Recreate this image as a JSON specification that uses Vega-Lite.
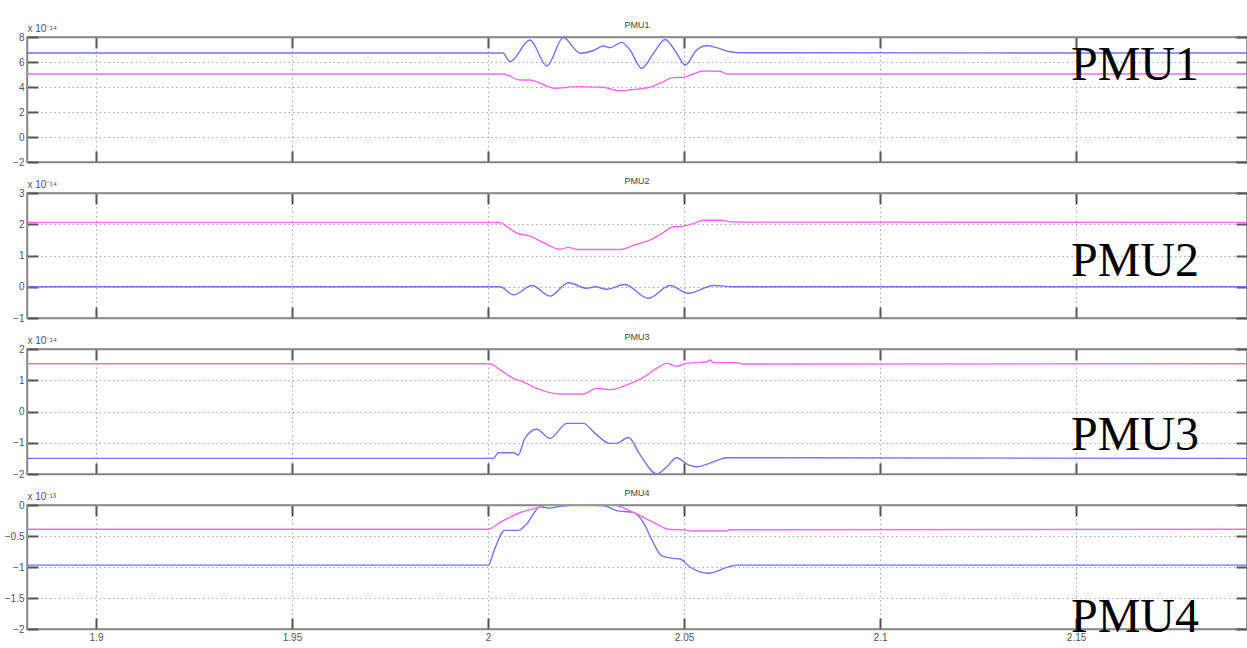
{
  "$schema": "https://vega.github.io/schema/vega-lite/v6.json",
  "padding": {"left": 3, "top": 20, "right": 0, "bottom": 0},
  "background": "white",
  "bounds": "flush",
  "spacing": 31,
  "config": {
    "view": {"stroke": "#888888", "strokeWidth": 1.5},
    "axis": {
      "labelFont": "Liberation Sans", "labelFontSize": 10, "labelColor": "#555555",
      "tickColor": "#555555", "tickWidth": 2, "tickSize": -11, "labelPadding": 14,
      "gridDash": [1.5, 3], "gridColor": "#a8a8a8", "gridWidth": 1,
      "domainColor": "#888888", "domainWidth": 1.5, "format": "~g",
      "titleFont": "Liberation Sans", "titleFontSize": 10, "titleFontWeight": "normal", "titleColor": "#555555"
    },
    "title": {"font": "Liberation Sans", "fontSize": 9, "fontWeight": "normal", "color": "#444444", "offset": -7},
    "text": {"font": "Liberation Serif", "fontSize": 48, "align": "left", "baseline": "alphabetic", "color": "#000000"}
  },
  "datasets": {
    "p1": [
      {"t": 1.882, "v": 6.72, "s": "blue"}, {"t": 2.0038, "v": 6.72, "s": "blue"}, {"t": 2.0056, "v": 6.03, "s": "blue"},
      {"t": 2.0107, "v": 7.76, "s": "blue"}, {"t": 2.015, "v": 5.68, "s": "blue"}, {"t": 2.0192, "v": 7.95, "s": "blue"},
      {"t": 2.0235, "v": 6.7, "s": "blue"}, {"t": 2.0268, "v": 6.9, "s": "blue"}, {"t": 2.0294, "v": 7.28, "s": "blue"},
      {"t": 2.0311, "v": 7.15, "s": "blue"}, {"t": 2.0341, "v": 7.57, "s": "blue"}, {"t": 2.0362, "v": 6.96, "s": "blue"},
      {"t": 2.0392, "v": 5.5, "s": "blue"}, {"t": 2.0422, "v": 6.7, "s": "blue"}, {"t": 2.0452, "v": 7.8, "s": "blue"},
      {"t": 2.0481, "v": 6.7, "s": "blue"}, {"t": 2.0503, "v": 5.76, "s": "blue"}, {"t": 2.0532, "v": 6.96, "s": "blue"},
      {"t": 2.0558, "v": 7.3, "s": "blue"}, {"t": 2.0583, "v": 7.15, "s": "blue"}, {"t": 2.0617, "v": 6.82, "s": "blue"},
      {"t": 2.0643, "v": 6.74, "s": "blue"}, {"t": 2.194, "v": 6.72, "s": "blue"},
      {"t": 1.882, "v": 5.04, "s": "pink"}, {"t": 2.0038, "v": 5.04, "s": "pink"}, {"t": 2.0082, "v": 4.56, "s": "pink"},
      {"t": 2.0107, "v": 4.56, "s": "pink"}, {"t": 2.0133, "v": 4.3, "s": "pink"}, {"t": 2.0171, "v": 3.9, "s": "pink"},
      {"t": 2.0226, "v": 4.03, "s": "pink"}, {"t": 2.0294, "v": 3.98, "s": "pink"}, {"t": 2.0332, "v": 3.7, "s": "pink"},
      {"t": 2.037, "v": 3.8, "s": "pink"}, {"t": 2.0413, "v": 3.98, "s": "pink"}, {"t": 2.0442, "v": 4.35, "s": "pink"},
      {"t": 2.0472, "v": 4.75, "s": "pink"}, {"t": 2.0497, "v": 4.77, "s": "pink"}, {"t": 2.0523, "v": 5.04, "s": "pink"},
      {"t": 2.0548, "v": 5.28, "s": "pink"}, {"t": 2.0592, "v": 5.26, "s": "pink"}, {"t": 2.0609, "v": 5.04, "s": "pink"},
      {"t": 2.194, "v": 5.04, "s": "pink"}
    ],
    "p2": [
      {"t": 1.882, "v": 0, "s": "blue"}, {"t": 2.0031, "v": 0, "s": "blue"}, {"t": 2.0065, "v": -0.26, "s": "blue"},
      {"t": 2.0112, "v": 0.04, "s": "blue"}, {"t": 2.0158, "v": -0.3, "s": "blue"}, {"t": 2.0205, "v": 0.13, "s": "blue"},
      {"t": 2.0252, "v": -0.05, "s": "blue"}, {"t": 2.0273, "v": 0, "s": "blue"}, {"t": 2.0303, "v": -0.08, "s": "blue"},
      {"t": 2.0349, "v": 0.07, "s": "blue"}, {"t": 2.0409, "v": -0.37, "s": "blue"}, {"t": 2.0464, "v": 0.04, "s": "blue"},
      {"t": 2.0511, "v": -0.21, "s": "blue"}, {"t": 2.0575, "v": 0.04, "s": "blue"}, {"t": 2.0626, "v": 0, "s": "blue"},
      {"t": 2.194, "v": 0, "s": "blue"},
      {"t": 1.882, "v": 2.06, "s": "pink"}, {"t": 2.0031, "v": 2.06, "s": "pink"}, {"t": 2.0043, "v": 1.97, "s": "pink"},
      {"t": 2.0073, "v": 1.72, "s": "pink"}, {"t": 2.0107, "v": 1.62, "s": "pink"}, {"t": 2.0137, "v": 1.44, "s": "pink"},
      {"t": 2.0184, "v": 1.2, "s": "pink"}, {"t": 2.0205, "v": 1.26, "s": "pink"}, {"t": 2.0226, "v": 1.19, "s": "pink"},
      {"t": 2.0337, "v": 1.19, "s": "pink"}, {"t": 2.0379, "v": 1.36, "s": "pink"}, {"t": 2.0413, "v": 1.49, "s": "pink"},
      {"t": 2.0443, "v": 1.7, "s": "pink"}, {"t": 2.0472, "v": 1.92, "s": "pink"}, {"t": 2.0498, "v": 1.94, "s": "pink"},
      {"t": 2.0523, "v": 2.02, "s": "pink"}, {"t": 2.0549, "v": 2.13, "s": "pink"}, {"t": 2.0592, "v": 2.13, "s": "pink"},
      {"t": 2.0626, "v": 2.07, "s": "pink"}, {"t": 2.194, "v": 2.06, "s": "pink"}
    ],
    "p3": [
      {"t": 1.882, "v": -1.5, "s": "blue"}, {"t": 2.0014, "v": -1.5, "s": "blue"}, {"t": 2.0026, "v": -1.32, "s": "blue"},
      {"t": 2.0065, "v": -1.32, "s": "blue"}, {"t": 2.0077, "v": -1.39, "s": "blue"}, {"t": 2.0094, "v": -0.86, "s": "blue"},
      {"t": 2.0124, "v": -0.57, "s": "blue"}, {"t": 2.0158, "v": -0.86, "s": "blue"}, {"t": 2.0201, "v": -0.38, "s": "blue"},
      {"t": 2.0243, "v": -0.38, "s": "blue"}, {"t": 2.0273, "v": -0.7, "s": "blue"}, {"t": 2.0311, "v": -1.02, "s": "blue"},
      {"t": 2.0328, "v": -1.02, "s": "blue"}, {"t": 2.0358, "v": -0.83, "s": "blue"}, {"t": 2.0388, "v": -1.39, "s": "blue"},
      {"t": 2.043, "v": -2.0, "s": "blue"}, {"t": 2.0456, "v": -1.77, "s": "blue"}, {"t": 2.0481, "v": -1.48, "s": "blue"},
      {"t": 2.0511, "v": -1.71, "s": "blue"}, {"t": 2.0532, "v": -1.77, "s": "blue"}, {"t": 2.0575, "v": -1.61, "s": "blue"},
      {"t": 2.0609, "v": -1.48, "s": "blue"}, {"t": 2.194, "v": -1.5, "s": "blue"},
      {"t": 1.882, "v": 1.53, "s": "pink"}, {"t": 2.0005, "v": 1.53, "s": "pink"}, {"t": 2.0031, "v": 1.33, "s": "pink"},
      {"t": 2.0065, "v": 1.06, "s": "pink"}, {"t": 2.009, "v": 0.95, "s": "pink"}, {"t": 2.0124, "v": 0.74, "s": "pink"},
      {"t": 2.0184, "v": 0.56, "s": "pink"}, {"t": 2.0243, "v": 0.56, "s": "pink"}, {"t": 2.0277, "v": 0.74, "s": "pink"},
      {"t": 2.0311, "v": 0.7, "s": "pink"}, {"t": 2.0354, "v": 0.85, "s": "pink"}, {"t": 2.0396, "v": 1.09, "s": "pink"},
      {"t": 2.043, "v": 1.38, "s": "pink"}, {"t": 2.0456, "v": 1.54, "s": "pink"}, {"t": 2.0481, "v": 1.45, "s": "pink"},
      {"t": 2.0507, "v": 1.54, "s": "pink"}, {"t": 2.0558, "v": 1.59, "s": "pink"}, {"t": 2.0566, "v": 1.65, "s": "pink"},
      {"t": 2.0575, "v": 1.57, "s": "pink"}, {"t": 2.0634, "v": 1.56, "s": "pink"}, {"t": 2.0651, "v": 1.52, "s": "pink"},
      {"t": 2.194, "v": 1.53, "s": "pink"}
    ],
    "p4": [
      {"t": 1.882, "v": -0.97, "s": "blue"}, {"t": 2.0001, "v": -0.97, "s": "blue"}, {"t": 2.0014, "v": -0.76, "s": "blue"},
      {"t": 2.0043, "v": -0.41, "s": "blue"}, {"t": 2.0077, "v": -0.41, "s": "blue"}, {"t": 2.0098, "v": -0.31, "s": "blue"},
      {"t": 2.0133, "v": -0.03, "s": "blue"}, {"t": 2.0158, "v": -0.05, "s": "blue"}, {"t": 2.0184, "v": -0.02, "s": "blue"},
      {"t": 2.0235, "v": 0.0, "s": "blue"}, {"t": 2.0294, "v": -0.01, "s": "blue"}, {"t": 2.0328, "v": -0.09, "s": "blue"},
      {"t": 2.037, "v": -0.12, "s": "blue"}, {"t": 2.0396, "v": -0.28, "s": "blue"}, {"t": 2.0417, "v": -0.55, "s": "blue"},
      {"t": 2.0443, "v": -0.82, "s": "blue"}, {"t": 2.0472, "v": -0.86, "s": "blue"}, {"t": 2.049, "v": -0.87, "s": "blue"},
      {"t": 2.0515, "v": -1.0, "s": "blue"}, {"t": 2.0562, "v": -1.1, "s": "blue"}, {"t": 2.0617, "v": -0.99, "s": "blue"},
      {"t": 2.0634, "v": -0.97, "s": "blue"}, {"t": 2.194, "v": -0.97, "s": "blue"},
      {"t": 1.882, "v": -0.39, "s": "pink"}, {"t": 2.0001, "v": -0.39, "s": "pink"}, {"t": 2.0031, "v": -0.28, "s": "pink"},
      {"t": 2.0073, "v": -0.145, "s": "pink"}, {"t": 2.0133, "v": -0.03, "s": "pink"}, {"t": 2.015, "v": 0.0, "s": "pink"},
      {"t": 2.032, "v": 0.0, "s": "pink"}, {"t": 2.0371, "v": -0.12, "s": "pink"}, {"t": 2.0422, "v": -0.28, "s": "pink"},
      {"t": 2.046, "v": -0.39, "s": "pink"}, {"t": 2.0498, "v": -0.4, "s": "pink"}, {"t": 2.0523, "v": -0.42, "s": "pink"},
      {"t": 2.0609, "v": -0.42, "s": "pink"}, {"t": 2.0617, "v": -0.4, "s": "pink"}, {"t": 2.194, "v": -0.39, "s": "pink"}
    ]
  },
  "vconcat": [
    {
      "width": 1220, "height": 125,
      "title": {"text": "PMU1"},
      "layer": [
        {
          "data": {"name": "p1"},
          "mark": {"type": "line", "interpolate": "monotone", "clip": true, "strokeWidth": 1.4},
          "encoding": {
            "x": {"field": "t", "type": "quantitative", "scale": {"domain": [1.8824, 2.1936], "nice": false, "zero": false},
                  "axis": {"orient": "bottom", "values": [1.9, 1.95, 2, 2.05, 2.1, 2.15], "labels": false, "grid": true, "title": null}},
            "y": {"field": "v", "type": "quantitative", "scale": {"domain": [-2, 8], "nice": false, "zero": false},
                  "axis": {"orient": "left", "values": [-2, 0, 2, 4, 6, 8], "grid": true, "title": "x 10⁻¹⁴", "titleAngle": 0, "titleAlign": "left", "titleBaseline": "bottom", "titleX": 0, "titleY": -4}},
            "color": {"field": "s", "type": "nominal", "scale": {"domain": ["blue", "pink"], "range": ["#7373f2", "#f26af2"]}, "legend": null}
          }
        },
        {
          "data": {"values": [{"t": 2.1487, "v": 4.56, "label": "PMU1"}]},
          "mark": {"type": "text", "clip": false},
          "encoding": {
            "x": {"field": "t", "type": "quantitative", "scale": {"domain": [1.8824, 2.1936], "nice": false, "zero": false},
                  "axis": {"orient": "top", "values": [1.9, 1.95, 2, 2.05, 2.1, 2.15], "labels": false, "grid": false, "title": null}},
            "y": {"field": "v", "type": "quantitative", "scale": {"domain": [-2, 8], "nice": false, "zero": false},
                  "axis": {"orient": "right", "values": [-2, 0, 2, 4, 6, 8], "labels": false, "grid": false, "title": null}},
            "text": {"field": "label"}
          }
        }
      ],
      "resolve": {"axis": {"x": "independent", "y": "independent"}}
    },
    {
      "width": 1220, "height": 125,
      "title": {"text": "PMU2"},
      "layer": [
        {
          "data": {"name": "p2"},
          "mark": {"type": "line", "interpolate": "monotone", "clip": true, "strokeWidth": 1.4},
          "encoding": {
            "x": {"field": "t", "type": "quantitative", "scale": {"domain": [1.8824, 2.1936], "nice": false, "zero": false},
                  "axis": {"orient": "bottom", "values": [1.9, 1.95, 2, 2.05, 2.1, 2.15], "labels": false, "grid": true, "title": null}},
            "y": {"field": "v", "type": "quantitative", "scale": {"domain": [-1, 3], "nice": false, "zero": false},
                  "axis": {"orient": "left", "values": [-1, 0, 1, 2, 3], "grid": true, "title": "x 10⁻¹⁴", "titleAngle": 0, "titleAlign": "left", "titleBaseline": "bottom", "titleX": 0, "titleY": -4}},
            "color": {"field": "s", "type": "nominal", "scale": {"domain": ["blue", "pink"], "range": ["#7373f2", "#f26af2"]}, "legend": null}
          }
        },
        {
          "data": {"values": [{"t": 2.1487, "v": 0.35, "label": "PMU2"}]},
          "mark": {"type": "text", "clip": false},
          "encoding": {
            "x": {"field": "t", "type": "quantitative", "scale": {"domain": [1.8824, 2.1936], "nice": false, "zero": false},
                  "axis": {"orient": "top", "values": [1.9, 1.95, 2, 2.05, 2.1, 2.15], "labels": false, "grid": false, "title": null}},
            "y": {"field": "v", "type": "quantitative", "scale": {"domain": [-1, 3], "nice": false, "zero": false},
                  "axis": {"orient": "right", "values": [-1, 0, 1, 2, 3], "labels": false, "grid": false, "title": null}},
            "text": {"field": "label"}
          }
        }
      ],
      "resolve": {"axis": {"x": "independent", "y": "independent"}}
    },
    {
      "width": 1220, "height": 125,
      "title": {"text": "PMU3"},
      "layer": [
        {
          "data": {"name": "p3"},
          "mark": {"type": "line", "interpolate": "monotone", "clip": true, "strokeWidth": 1.4},
          "encoding": {
            "x": {"field": "t", "type": "quantitative", "scale": {"domain": [1.8824, 2.1936], "nice": false, "zero": false},
                  "axis": {"orient": "bottom", "values": [1.9, 1.95, 2, 2.05, 2.1, 2.15], "labels": false, "grid": true, "title": null}},
            "y": {"field": "v", "type": "quantitative", "scale": {"domain": [-2, 2], "nice": false, "zero": false},
                  "axis": {"orient": "left", "values": [-2, -1, 0, 1, 2], "grid": true, "title": "x 10⁻¹⁴", "titleAngle": 0, "titleAlign": "left", "titleBaseline": "bottom", "titleX": 0, "titleY": -4}},
            "color": {"field": "s", "type": "nominal", "scale": {"domain": ["blue", "pink"], "range": ["#7373f2", "#f26af2"]}, "legend": null}
          }
        },
        {
          "data": {"values": [{"t": 2.1487, "v": -1.23, "label": "PMU3"}]},
          "mark": {"type": "text", "clip": false},
          "encoding": {
            "x": {"field": "t", "type": "quantitative", "scale": {"domain": [1.8824, 2.1936], "nice": false, "zero": false},
                  "axis": {"orient": "top", "values": [1.9, 1.95, 2, 2.05, 2.1, 2.15], "labels": false, "grid": false, "title": null}},
            "y": {"field": "v", "type": "quantitative", "scale": {"domain": [-2, 2], "nice": false, "zero": false},
                  "axis": {"orient": "right", "values": [-2, -1, 0, 1, 2], "labels": false, "grid": false, "title": null}},
            "text": {"field": "label"}
          }
        }
      ],
      "resolve": {"axis": {"x": "independent", "y": "independent"}}
    },
    {
      "width": 1220, "height": 124,
      "title": {"text": "PMU4"},
      "layer": [
        {
          "data": {"name": "p4"},
          "mark": {"type": "line", "interpolate": "monotone", "clip": true, "strokeWidth": 1.4},
          "encoding": {
            "x": {"field": "t", "type": "quantitative", "scale": {"domain": [1.8824, 2.1936], "nice": false, "zero": false},
                  "axis": {"orient": "bottom", "values": [1.9, 1.95, 2, 2.05, 2.1, 2.15], "labels": true, "grid": true, "title": null}},
            "y": {"field": "v", "type": "quantitative", "scale": {"domain": [-2, 0], "nice": false, "zero": false},
                  "axis": {"orient": "left", "values": [-2, -1.5, -1, -0.5, 0], "grid": true, "title": "x 10⁻¹³", "titleAngle": 0, "titleAlign": "left", "titleBaseline": "bottom", "titleX": 0, "titleY": -4}},
            "color": {"field": "s", "type": "nominal", "scale": {"domain": ["blue", "pink"], "range": ["#7373f2", "#f26af2"]}, "legend": null}
          }
        },
        {
          "data": {"values": [{"t": 2.1487, "v": -2.05, "label": "PMU4"}]},
          "mark": {"type": "text", "clip": false},
          "encoding": {
            "x": {"field": "t", "type": "quantitative", "scale": {"domain": [1.8824, 2.1936], "nice": false, "zero": false},
                  "axis": {"orient": "top", "values": [1.9, 1.95, 2, 2.05, 2.1, 2.15], "labels": false, "grid": false, "title": null}},
            "y": {"field": "v", "type": "quantitative", "scale": {"domain": [-2, 0], "nice": false, "zero": false},
                  "axis": {"orient": "right", "values": [-2, -1.5, -1, -0.5, 0], "labels": false, "grid": false, "title": null}},
            "text": {"field": "label"}
          }
        }
      ],
      "resolve": {"axis": {"x": "independent", "y": "independent"}}
    }
  ]
}
